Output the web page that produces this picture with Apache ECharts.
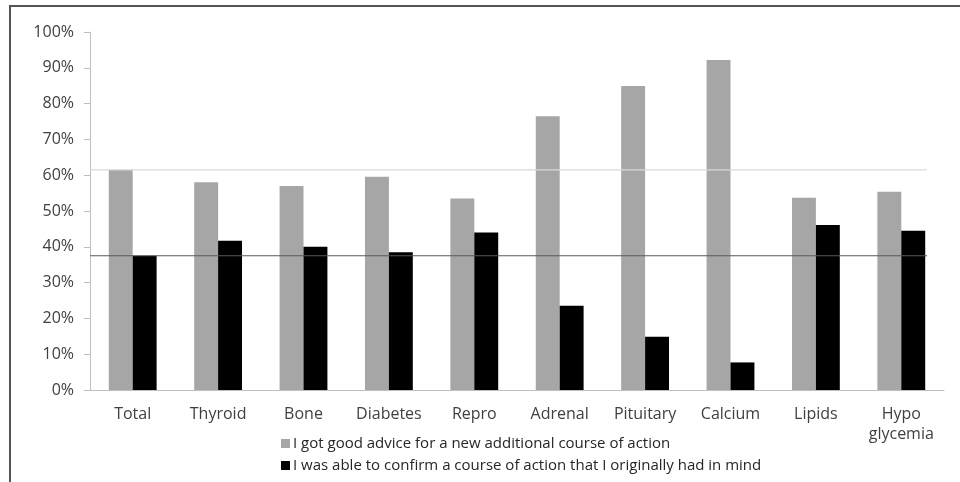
<!DOCTYPE html>
<html>
<head>
<meta charset="utf-8">
<script src="https://cdn.jsdelivr.net/npm/echarts@6/dist/echarts.min.js"></script>
<style>
html,body{margin:0;padding:0;background:#fff;}
#chart{width:960px;height:482px;}
</style>
</head>
<body>
<div id="chart"></div>
<script>
const categories = ['Total','Thyroid','Bone','Diabetes','Repro','Adrenal','Pituitary','Calcium','Lipids','Hypo\nglycemia'];
const newAdvice = [61.5, 58.0, 57.0, 59.6, 53.5, 76.5, 84.9, 92.2, 53.7, 55.4];
const confirmed = [37.5, 41.7, 40.0, 38.5, 44.0, 23.5, 14.9, 7.7, 46.1, 44.5];
const seriesNames = ['I got good advice for a new additional course of action',
                     'I was able to confirm a course of action that I originally had in mind'];
const refNew = 61.5;
const refConfirm = 37.5;
const refSpan = [0, 9.8];

const chart = echarts.init(document.getElementById('chart'));
const font = 'Open Sans';
chart.setOption({
  animation: false,
  backgroundColor: '#fff',
  textStyle: {fontFamily: font},
  graphic: [{
    type: 'rect', silent: true,
    shape: {x: 10, y: 6, width: 1000, height: 600},
    style: {fill: 'none', stroke: '#555', lineWidth: 2}
  }],
  grid: {left: 90, right: 16, top: 32, bottom: 92},
  legend: {
    orient: 'vertical', left: 276, top: 431,
    itemWidth: 9, itemHeight: 9, itemGap: 7,
    icon: 'rect',
    data: seriesNames,
    textStyle: {fontFamily: font, fontSize: 15, color: '#262626', padding: [0,0,0,-2]}
  },
  xAxis: [{
    type: 'category', data: categories,
    axisLine: {lineStyle: {color: '#bfbfbf'}},
    axisTick: {length: 5, lineStyle: {color: '#bfbfbf'}},
    axisLabel: {fontFamily: font, fontSize: 16, color: '#404040', margin: 14, lineHeight: 20, interval: 0}
  }, {
    type: 'value', min: 0, max: 10, show: false
  }],
  yAxis: {
    type: 'value', min: 0, max: 100, interval: 10,
    splitLine: {show: false},
    axisLine: {show: true, lineStyle: {color: '#bfbfbf'}},
    axisTick: {show: true, length: 6, lineStyle: {color: '#bfbfbf'}},
    axisLabel: {formatter: '{value}%', fontFamily: font, fontSize: 16, color: '#404040', margin: 16}
  },
  series: [{
    name: seriesNames[0], type: 'bar', data: newAdvice,
    barWidth: '28%', barGap: '0%',
    itemStyle: {color: '#a6a6a6'}
  }, {
    name: seriesNames[1], type: 'bar', data: confirmed,
    barWidth: '28%', barGap: '0%',
    itemStyle: {color: '#000'}
  }, {
    type: 'line', xAxisIndex: 1, symbol: 'none', silent: true,
    data: refSpan.map(x => [x, refNew]),
    lineStyle: {color: '#d9d9d9', width: 1.2}
  }, {
    type: 'line', xAxisIndex: 1, symbol: 'none', silent: true,
    data: refSpan.map(x => [x, refConfirm]),
    lineStyle: {color: '#595959', width: 1.2}
  }]
});
</script>
</body>
</html>
